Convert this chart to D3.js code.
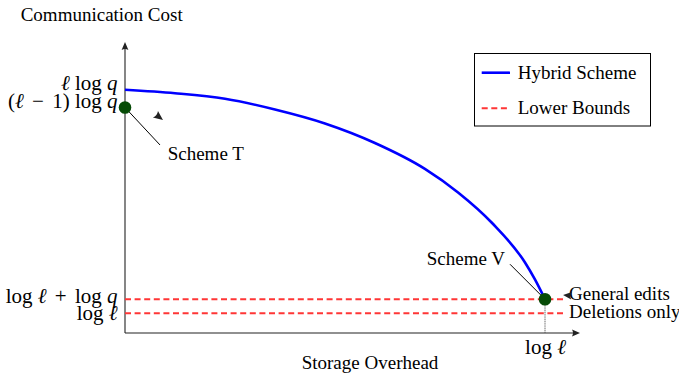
<!DOCTYPE html>
<html>
<head>
<meta charset="utf-8">
<script src="https://cdn.jsdelivr.net/npm/d3@7"></script>
<style>
  body { margin: 0; background: #fff; }
  svg { display: block; font-family: "Liberation Serif", "Times New Roman", serif; }
  text { white-space: pre; }
</style>
</head>
<body>
<svg id="chart" width="679" height="378"></svg>
<script>
// Trade-off between storage overhead (in units of log ℓ) and communication cost
const hybridX = [0, 0.119, 0.238, 0.357, 0.476, 0.595, 0.714, 0.793, 0.874, 0.952, 0.976, 1];
const hybridY = [83.6, 82.4, 80.5, 76.8, 72.0, 65.3, 56.4, 48.3, 37.8, 24.3, 18.4, 11.6];

const boundNames = ["General edits", "Deletions only"];
const boundValues = [11.6, 6.8];

const schemeNames = ["Scheme T", "Scheme V"];
const schemeX = [0, 1];
const schemeY = [77.5, 11.6];

const yTickValues = [83.6, 77.5, 11.6, 6.8];
const yTickLabels = ["ℓ log q", "(ℓ − 1) log q", "log ℓ + log q", "log ℓ"];
const xTickValues = [1];
const xTickLabels = ["log ℓ"];

const legendNames = ["Hybrid Scheme", "Lower Bounds"];

const BLUE = "#0000ff", RED = "#ff3636", GREEN = "#064b06", AXIS = "#222";

const svg = d3.select("#chart");
const x = d3.scaleLinear().domain([0, 1.0833]).range([125, 580]);
const y = d3.scaleLinear().domain([0, 100]).range([333, 42]);

// write a label with italic math symbols (ℓ, q) and wider spacing round operators
function mathLabel(textSel, str) {
  textSel.text(null);
  let buf = "";
  let pad = 0;
  const flush = () => {
    if (buf) { textSel.append("tspan").attr("dx", pad || null).text(buf); buf = ""; pad = 0; }
  };
  for (const ch of str) {
    if (ch === "ℓ" || ch === "q") {
      flush();
      textSel.append("tspan").attr("font-style", "italic").attr("dx", pad || null).text(ch);
      pad = 0;
    } else if (ch === "−" || ch === "+") {
      flush();
      textSel.append("tspan").attr("dx", 3).text(ch);
      pad = 3;
    } else buf += ch;
  }
  flush();
}

// small latex-style arrow head, tip at (tx, ty), pointing along angle (radians)
function arrowHead(g, tx, ty, angle, len = 8, half = 3.4) {
  const c = Math.cos(angle), s = Math.sin(angle);
  const bx = tx - c * len, by = ty - s * len;
  const nx = -s * half, ny = c * half;
  const mx = tx - c * len * 0.75, my = ty - s * len * 0.75;
  g.append("path")
    .attr("d", `M${tx},${ty}L${bx + nx},${by + ny}Q${mx},${my} ${bx - nx},${by - ny}Z`)
    .attr("fill", AXIS);
}

// axes
const axesG = svg.append("g");
axesG.append("line").attr("x1", x(0)).attr("x2", x.range()[1] - 5)
  .attr("y1", y(0)).attr("y2", y(0)).attr("stroke", AXIS).attr("stroke-width", 1.1);
axesG.append("line").attr("x1", x(0)).attr("x2", x(0))
  .attr("y1", y(0)).attr("y2", y.range()[1] + 5).attr("stroke", AXIS).attr("stroke-width", 1.1);
arrowHead(axesG, x.range()[1], y(0), 0);
arrowHead(axesG, x(0), y.range()[1], -Math.PI / 2);

// y tick labels
const yLabelShift = [0, 0.2, 3.4, 6.2];
const yAxis = svg.append("g").attr("transform", `translate(${x(0)},0)`)
  .call(d3.axisLeft(y).tickValues(yTickValues).tickSize(0).tickPadding(7.5)
    .tickFormat((d, i) => yTickLabels[i]));
yAxis.select(".domain").remove();
yAxis.attr("font-family", null).attr("font-size", null);
yAxis.selectAll("text")
  .attr("font-size", 21).attr("fill", "#000")
  .attr("dy", (d, i) => yLabelShift[i])
  .each(function (d, i) { mathLabel(d3.select(this), yTickLabels[i]); });

// x tick labels
const xAxis = svg.append("g").attr("transform", `translate(0,${y(0)})`)
  .call(d3.axisBottom(x).tickValues(xTickValues).tickSize(0).tickPadding(21)
    .tickFormat((d, i) => xTickLabels[i]));
xAxis.select(".domain").remove();
xAxis.attr("font-family", null).attr("font-size", null);
xAxis.selectAll("text")
  .attr("font-size", 21).attr("fill", "#000").attr("dy", 0)
  .each(function (d, i) { mathLabel(d3.select(this), xTickLabels[i]); });

// drop line from Scheme V to the axis
svg.append("line")
  .attr("x1", x(schemeX[1])).attr("x2", x(schemeX[1]))
  .attr("y1", y(schemeY[1])).attr("y2", y(0))
  .attr("stroke", "#444").attr("stroke-width", 0.8).attr("stroke-dasharray", "1.2,0.6");

// axis titles
svg.append("text").attr("x", 20.7).attr("y", 20.7).attr("font-size", 19).text("Communication Cost");
svg.append("text").attr("x", 301.7).attr("y", 369.3).attr("font-size", 19).text("Storage Overhead");

// lower bounds
const boundEnd = 1.043;
svg.append("g").selectAll("line").data(boundValues).join("line")
  .attr("x1", x(0)).attr("x2", x(boundEnd))
  .attr("y1", d => y(d)).attr("y2", d => y(d))
  .attr("stroke", RED).attr("stroke-width", 2).attr("stroke-dasharray", "6,3.6");

const boundLabelShift = [0.3, 5.2];
svg.append("g").selectAll("text").data(boundNames).join("text")
  .attr("x", x(boundEnd) + 6).attr("y", (d, i) => y(boundValues[i]) + boundLabelShift[i])
  .attr("font-size", 19).text(d => d);
arrowHead(svg, x(boundEnd), y(boundValues[0]) - 4.3, Math.PI + 0.1, 8.5, 3.8);

// hybrid scheme curve
const curvePts = hybridX.map((d, i) => [d, hybridY[i]]);
svg.append("path").datum(curvePts)
  .attr("fill", "none").attr("stroke", BLUE).attr("stroke-width", 2.6)
  .attr("d", d3.line().x(d => x(d[0])).y(d => y(d[1])).curve(d3.curveMonotoneX));

// scheme markers with pointer labels
const pinLine = [[35, 37.5], [-35, -35]];
const pinText = [[42.7, 52.5, "start"], [-40, -34.3, "end"]];
schemeNames.forEach((name, i) => {
  const px = x(schemeX[i]), py = y(schemeY[i]);
  svg.append("line").attr("x1", px).attr("y1", py)
    .attr("x2", px + pinLine[i][0]).attr("y2", py + pinLine[i][1])
    .attr("stroke", "#000").attr("stroke-width", 1);
  svg.append("text").attr("x", px + pinText[i][0]).attr("y", py + pinText[i][1])
    .attr("text-anchor", pinText[i][2]).attr("font-size", 19).text(name);
});
svg.append("g").selectAll("circle").data(schemeX).join("circle")
  .attr("cx", d => x(d)).attr("cy", (d, i) => y(schemeY[i])).attr("r", 6.3)
  .attr("fill", GREEN);

// stray pointer head beside Scheme T
arrowHead(svg, x(0) + 38, y(schemeY[0]) + 12.5, 0.65, 9.5, 4.2);

// legend
const leg = svg.append("g").attr("transform", "translate(474.5,53.5)");
leg.append("rect").attr("width", 176).attr("height", 72.5)
  .attr("fill", "#fff").attr("stroke", "#000").attr("stroke-width", 1);
const legStroke = [BLUE, RED], legDash = [null, "6,3.6"], legW = [2.6, 2];
legendNames.forEach((name, i) => {
  const ly = 19.2 + i * 35.6;
  leg.append("line").attr("x1", 7.2).attr("x2", 35.5).attr("y1", ly).attr("y2", ly)
    .attr("stroke", legStroke[i]).attr("stroke-width", legW[i]).attr("stroke-dasharray", legDash[i]);
  leg.append("text").attr("x", 43.2).attr("y", ly + 6).attr("font-size", 19).text(name);
});
</script>
</body>
</html>
